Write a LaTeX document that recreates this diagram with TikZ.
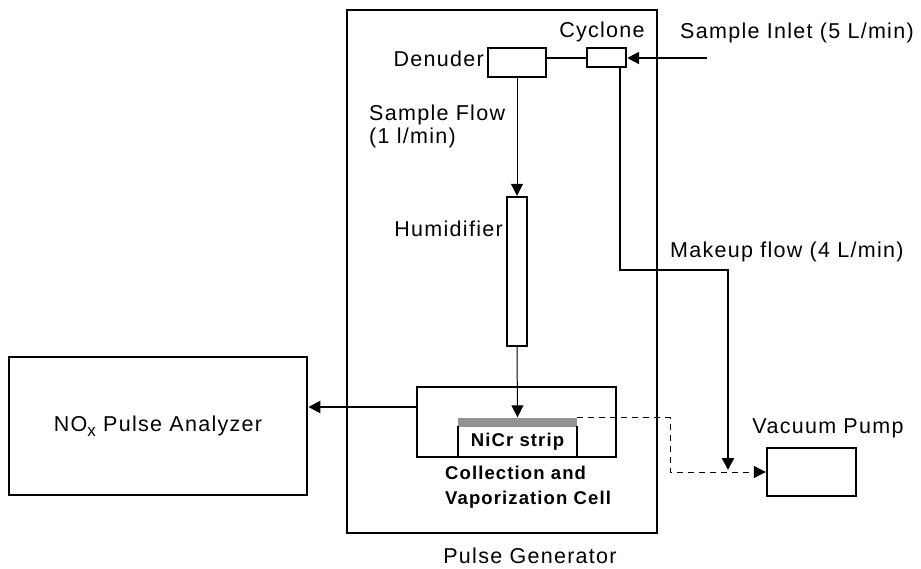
\documentclass[tikz,border=0pt]{standalone}
\usepackage{fontspec}
\setmainfont{Liberation Sans}[LetterSpace=6]
\usetikzlibrary{arrows.meta}

\begin{document}
\begin{tikzpicture}[line cap=butt,line join=miter,>={Triangle[length=12pt,width=12pt]},x=1pt,y=-1pt,
	every node/.style={font=\fontsize{21.5}{23}\selectfont,inner sep=0pt},
	box/.style={draw,line width=2.4pt,rectangle},
	flow/.style={line width=2.4pt},
	thinflow/.style={line width=1pt},
	lbl/.style={font=\fontsize{18.5}{25}\selectfont\bfseries}]
		\useasboundingbox (0,0) rectangle (921,569);
		% boxes
		\node[box,line width=2.8pt,minimum width=310pt,minimum height=523pt] (gen) at (502,271.5) {};
		\node[box,minimum width=58pt,minimum height=29pt] (denuder) at (517,62.5) {};
		\node[box,minimum width=39pt,minimum height=19pt] (cyclone) at (606.5,57.5) {};
		\node[box,minimum width=20pt,minimum height=149pt] (humid) at (517,271.5) {};
		\node[box,minimum width=199pt,minimum height=70pt] (cell) at (516.5,422) {};
		\node[box,line width=2.8pt,minimum width=298pt,minimum height=138pt] (analyzer) at (158,426)
			{NO\raisebox{-5pt}{\fontsize{17}{17}\selectfont x} Pulse Analyzer};
		\node[box,minimum width=89pt,minimum height=48pt] (pump) at (811.5,472) {};
		% NiCr strip inside the cell
		\node[fill=gray!85,minimum width=119pt,minimum height=9pt] (strip) at (517.5,422) {};
		\node[lbl,minimum width=119pt,minimum height=30pt] (nicr) at (517.5,441.5) {NiCr strip};
		\draw[flow] (nicr.north west) -- (nicr.south west);
		\draw[flow] (nicr.north east) -- (nicr.south east);
		% free ends
		\coordinate (inlet) at (707,58);
		\coordinate (out) at (417,407);
		\coordinate (makeup) at (620,270);
		\coordinate (drop) at (728,470);
		\coordinate (bend) at (670,472);
		% connectors
		\draw[flow,->] (inlet) -- (inlet -| cyclone.east);
		\draw[flow] (cyclone.west |- inlet) -- (denuder.east |- inlet);
		\draw[thinflow,->] (denuder.south) -- (humid.north);
		\draw[thinflow,->] (humid.south) -- (strip.north);
		\draw[flow,->] (out) -- (out -| analyzer.east);
		\draw[flow,->] (makeup |- cyclone.south) -- (makeup) -| (drop);
		\draw[thinflow,dash pattern=on 6pt off 5pt,->] (strip.north east) -| (bend) -- (pump.west |- bend);
		% labels
		\node (cyclonelbl) at (602,32) {Cyclone};
		\node[anchor=west] (inletlbl) at (680,33) {Sample Inlet (5 L/min)};
		\node[anchor=east] (denuderlbl) at (484,59) {Denuder};
		\node[anchor=north west,align=left] (flowlbl) at (369,105) {Sample Flow\\(1 l/min)};
		\node[anchor=east] (humidlbl) at (503,229) {Humidifier};
		\node[anchor=west] (makeuplbl) at (670,252) {Makeup flow (4 L/min)};
		\node (pumplbl) at (828,428) {Vacuum Pump};
		\node[lbl,anchor=north west,align=left] (celllbl) at (445,466) {Collection and\\Vaporization Cell};
		\node (genlbl) at (530,556) {Pulse Generator};
	\end{tikzpicture}
\end{document}
